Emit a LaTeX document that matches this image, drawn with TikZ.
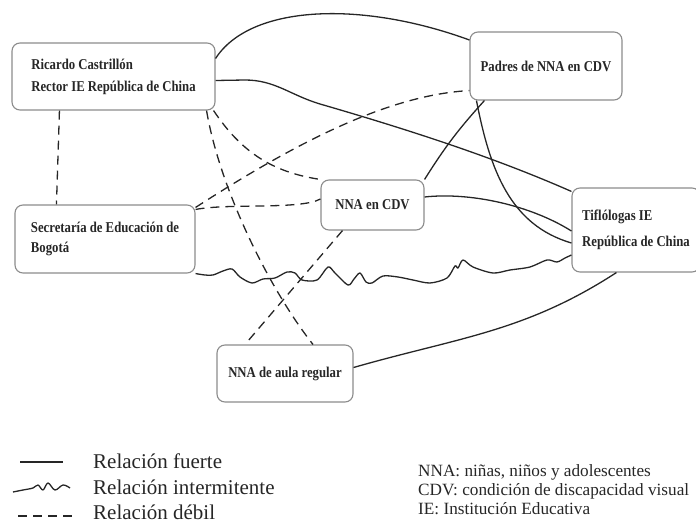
\documentclass[tikz,border=0pt]{standalone}
\usepackage{fontspec}
\setmainfont{Liberation Serif}
\newfontfamily\boxfont[FakeStretch=0.85]{Liberation Serif}
\definecolor{ink}{HTML}{262626}
\definecolor{boxline}{HTML}{8C8C8C}
\begin{document}
\begin{tikzpicture}[x=1pt,y=-1pt,
    actor/.style={draw=boxline, line width=1.1pt, rounded corners=8pt, text=ink,
        font=\boxfont\bfseries\fontsize{15}{22}\selectfont, align=left},
    strong/.style={draw=ink, line width=1.3pt},
    weak/.style={draw=ink, line width=1.3pt, dash pattern=on 9pt off 6pt},
    wavy/.style={draw=ink, line width=1.3pt, line join=round},
    legtext/.style={anchor=base west, text=ink, font=\fontsize{21}{25}\selectfont, inner sep=0pt},
    note/.style={anchor=base west, text=ink, font=\fontsize{17.2}{19}\selectfont, inner sep=0pt}]
    \clip (0,0) rectangle (696,524);
    % actors
    \node[actor, minimum width=203pt, minimum height=67pt, xshift=3pt]
        (rector) at (110.5,76.5) {Ricardo Castrillón\\Rector IE República de China};
    \node[actor, minimum width=152pt, minimum height=68pt] (padres) at (546,66) {Padres de NNA en CDV};
    \node[actor, minimum width=180pt, minimum height=68pt,
        font=\boxfont\bfseries\fontsize{15}{20}\selectfont]
        (secretaria) at (105,239) {Secretaría de Educación de\\Bogotá};
    \node[actor, minimum width=128pt, minimum height=84pt,
        font=\boxfont\bfseries\fontsize{15}{26}\selectfont]
        (tiflo) at (636,230) {Tiflólogas IE\\República de China};
    \node[actor, minimum width=103pt, minimum height=50pt] (nnacdv) at (372.5,205) {NNA en CDV};
    \node[actor, minimum width=136pt, minimum height=57pt] (aula) at (285,373.5) {NNA de aula regular};
    % strong relations
    \draw[strong] ([yshift=18]rector.east) .. controls (250,5) and (360,0) .. ([yshift=26]padres.west);
    \draw[strong] ([yshift=-4]rector.east) -- (245,80) .. controls (275,80) and (290,95) .. (320,104)
        .. controls (420,133) and (500,160) .. ([yshift=-4]tiflo.north west);
    \draw[strong] ([xshift=15]padres.south west) to[bend right=5] (nnacdv.north east);
    \draw[strong] ([xshift=7]padres.south west) .. controls (490,170) and (510,225) .. ([yshift=-13]tiflo.west);
    \draw[strong] ([yshift=8]nnacdv.east) .. controls (470,192) and (530,205) .. ([yshift=-1]tiflo.west);
    \draw[strong] ([yshift=6]aula.east) to[out=16,in=213] ([xshift=45]tiflo.south west);
    % intermittent relation
    \draw[wavy] plot[smooth, tension=0.5] coordinates {(secretaria.south east) (205,275) (213,275)
        (223,271) (232,269) (240,277) (252,283) (263,279) (275,278) (287,272) (295,273) (302,280)
        (317,280) (328,267) (335,273) (348,285) (354,279) (360,273) (366,282) (372,283) (383,276)
        (398,277) (413,280) (430,283) (447,278) (455,266) (458,268) (463,260) (473,267) (493,273)
        (510,270) (530,267) (547,260) (557,262) (565,258) ([yshift=-25]tiflo.west)};
    % weak relations
    \draw[weak] ([xshift=48]rector.south west) -- ([xshift=42]secretaria.north west);
    \draw[weak] ([xshift=-2]rector.south east) .. controls (240,150) and (270,172) .. (nnacdv.north west);
    \draw[weak] ([xshift=-9]rector.south east) .. controls (220,190) and (270,290) .. ([xshift=28]aula.north);
    \draw[weak] ([yshift=-3]secretaria.north east) .. controls (300,140) and (390,95) .. ([yshift=10]padres.south west);
    \draw[weak] ([yshift=-5]secretaria.north east) .. controls (230,203) and (300,210) .. ([yshift=6]nnacdv.west);
    \draw[weak] ([xshift=-30]nnacdv.south) -- ([xshift=-40]aula.north);
    % legend
    \draw[strong] (20,462) -- (63,462);
    \draw[wavy] plot[smooth, tension=0.6] coordinates {(13,492) (23,490) (33,488) (38,485) (43,490)
        (48,483) (55,490) (63,485) (70,488)};
    \draw[weak] (18,516) -- (77,516);
    \node[legtext] (legfuerte) at (93,468) {Relación fuerte};
    \node[legtext] (leginter) at (93,494) {Relación intermitente};
    \node[legtext] (legdebil) at (93,519) {Relación débil};
    % abbreviations
    \node[note] (notenna) at (418,476) {NNA: niñas, niños y adolescentes};
    \node[note] (notecdv) at (418,495) {CDV: condición de discapacidad visual};
    \node[note] (noteie) at (418,514) {IE: Institución Educativa};
\end{tikzpicture}
\end{document}
